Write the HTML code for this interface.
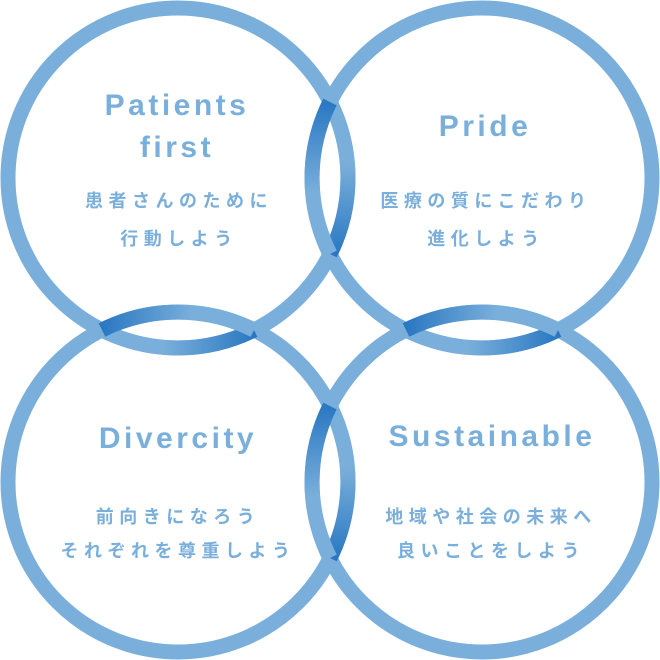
<!DOCTYPE html>
<html><head><meta charset="utf-8"><style>
html,body{margin:0;padding:0;background:#fff;}
svg{display:block}
.t{font-family:"Liberation Sans","Noto Sans CJK JP",sans-serif;font-weight:bold;fill:#7aafdb;text-anchor:middle}
.e{font-size:30px;letter-spacing:3.5px}
.j{font-size:18px;letter-spacing:5.5px}
</style></head><body>
<svg width="660" height="660" viewBox="0 0 660 660">
<defs>
<linearGradient id="gv1" x1="0" y1="102" x2="0" y2="254" gradientUnits="userSpaceOnUse">
<stop offset="0" stop-color="#2a78c2"/><stop offset="0.6" stop-color="#7aafdb"/><stop offset="1" stop-color="#7aafdb"/></linearGradient>
<linearGradient id="gv2" x1="0" y1="102" x2="0" y2="254" gradientUnits="userSpaceOnUse">
<stop offset="0" stop-color="#7aafdb"/><stop offset="0.4" stop-color="#7aafdb"/><stop offset="1" stop-color="#2a78c2"/></linearGradient>
<linearGradient id="gv3" x1="0" y1="406" x2="0" y2="558" gradientUnits="userSpaceOnUse">
<stop offset="0" stop-color="#2a78c2"/><stop offset="0.6" stop-color="#7aafdb"/><stop offset="1" stop-color="#7aafdb"/></linearGradient>
<linearGradient id="gv4" x1="0" y1="406" x2="0" y2="558" gradientUnits="userSpaceOnUse">
<stop offset="0" stop-color="#7aafdb"/><stop offset="0.4" stop-color="#7aafdb"/><stop offset="1" stop-color="#2a78c2"/></linearGradient>
<linearGradient id="ghL1" x1="102" y1="0" x2="254" y2="0" gradientUnits="userSpaceOnUse">
<stop offset="0" stop-color="#2a78c2"/><stop offset="0.6" stop-color="#7aafdb"/><stop offset="1" stop-color="#7aafdb"/></linearGradient>
<linearGradient id="ghR1" x1="102" y1="0" x2="254" y2="0" gradientUnits="userSpaceOnUse">
<stop offset="0" stop-color="#7aafdb"/><stop offset="0.4" stop-color="#7aafdb"/><stop offset="1" stop-color="#2a78c2"/></linearGradient>
<linearGradient id="ghL2" x1="406" y1="0" x2="558" y2="0" gradientUnits="userSpaceOnUse">
<stop offset="0" stop-color="#2a78c2"/><stop offset="0.6" stop-color="#7aafdb"/><stop offset="1" stop-color="#7aafdb"/></linearGradient>
<linearGradient id="ghR2" x1="406" y1="0" x2="558" y2="0" gradientUnits="userSpaceOnUse">
<stop offset="0" stop-color="#7aafdb"/><stop offset="0.4" stop-color="#7aafdb"/><stop offset="1" stop-color="#2a78c2"/></linearGradient>
</defs>
<g fill="none" stroke="#7aafdb" stroke-width="15">
<circle cx="178" cy="178" r="170"/>
<circle cx="482" cy="178" r="170"/>
<circle cx="178" cy="482" r="170"/>
<circle cx="482" cy="482" r="170"/>
</g>
<g fill="none" stroke-width="15">
<path d="M330 102 A170 170 0 0 1 330 254" stroke="url(#gv2)"/>
<path d="M330 102 A170 170 0 0 0 330 254" stroke="url(#gv1)"/>
<path d="M330 406 A170 170 0 0 1 330 558" stroke="url(#gv4)"/>
<path d="M330 406 A170 170 0 0 0 330 558" stroke="url(#gv3)"/>
<path d="M102 330 A170 170 0 0 0 254 330" stroke="url(#ghR1)"/>
<path d="M102 330 A170 170 0 0 1 254 330" stroke="url(#ghL1)"/>
<path d="M406 330 A170 170 0 0 0 558 330" stroke="url(#ghR2)"/>
<path d="M406 330 A170 170 0 0 1 558 330" stroke="url(#ghL2)"/>
</g>
<text class="t e" x="177" y="115">Patients</text>
<text class="t e" x="177" y="157">first</text>
<text class="t j" x="179" y="207">患者さんのために</text>
<text class="t j" x="179" y="245">行動しよう</text>
<text class="t e" x="485" y="136">Pride</text>
<text class="t j" x="486" y="207">医療の質にこだわり</text>
<text class="t j" x="486" y="245">進化しよう</text>
<text class="t e" x="178" y="448">Divercity</text>
<text class="t j" x="178" y="523">前向きになろう</text>
<text class="t j" x="178" y="557">それぞれを尊重しよう</text>
<text class="t e" x="492" y="446">Sustainable</text>
<text class="t j" x="491" y="523">地域や社会の未来へ</text>
<text class="t j" x="491" y="557">良いことをしよう</text>
</svg>
</body></html>
